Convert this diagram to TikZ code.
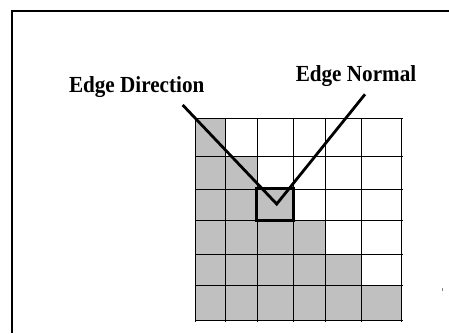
\documentclass[tikz,border=0pt]{standalone}
\usepackage{fontspec}
\setmainfont{Liberation Serif}
\usepackage{xcolor}
\usepackage{tikz}
\usetikzlibrary{positioning}

\definecolor{cellgray}{RGB}{192,192,192}

\begin{document}
\begin{tikzpicture}[
    x=1pt, y=-1pt,
    label/.style={font=\fontsize{23}{26}\selectfont\bfseries, inner sep=0pt,
                  anchor=base, xscale=0.92},
    frame/.style={line width=1.7pt},
    gridline/.style={line width=0.85pt},
    pixbox/.style={line width=3pt},
    pointer/.style={line width=2.8pt, line join=miter},
]
\useasboundingbox (0,0) rectangle (449,333);

% ── outer frame (open to the right and bottom) ─────────────────────
\draw[frame] (12.3,333) -- (12.3,11) -- (449,11);

% ── shaded staircase : row r keeps cols 0..r ───────────────────────
\foreach \ya/\yb/\xb in {118.3/156.7/225.7, 156.7/189.0/257.3,
                         189.0/220.7/293.3, 220.7/254.0/325.7,
                         254.0/285.7/361.7, 285.7/320.0/401.0}
    \fill[cellgray] (195.7,\ya) rectangle (\xb,\yb);

% ── 6x6 pixel grid ─────────────────────────────────────────────────
\foreach \x in {195.7,225.7,257.3,293.3,325.7,361.7,401.0}
    \draw[gridline] (\x,118.3) -- (\x,321.5);
\foreach \y in {118.3,156.7,189.0,220.7,254.0,285.7,320.0}
    \draw[gridline] (195.7,\y) -- (403,\y);

% ── highlighted edge pixel ─────────────────────────────────────────
\draw[pixbox] (256.7,188.0) rectangle (293.3,220.7);

% ── labels ─────────────────────────────────────────────────────────
\node[label] (dirlabel)  at (136.7,92.7) {Edge Direction};
\node[label] (normlabel) at (356.0,81.0) {Edge Normal};

% ── pointer lines meeting inside the pixel ─────────────────────────
\coordinate (dirend)  at (182.7,105.0);
\coordinate (vtip)    at (276.7,204.0);
\coordinate (normend) at (365.0,94.3);
\draw[pointer] (dirend) -- (vtip) -- (normend);

% small stray tick at the right
\draw[line width=0.6pt, gray] (442.3,287.5) -- (442.3,290.5);

\end{tikzpicture}
\end{document}
